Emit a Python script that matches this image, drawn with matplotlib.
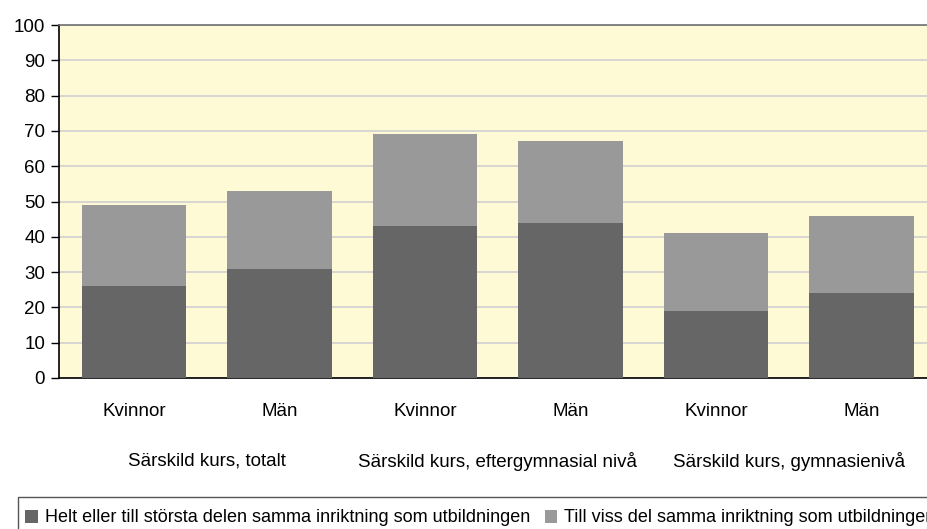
import matplotlib
matplotlib.use("Agg")
import matplotlib.pyplot as plt
from matplotlib.patches import Rectangle, Patch
import numpy as np

plt.rcParams["font.family"] = ["Liberation Sans", "DejaVu Sans"]

# data
sub_labels = ["Kvinnor", "Män", "Kvinnor", "Män", "Kvinnor", "Män"]
group_labels = ["Särskild kurs, totalt",
                "Särskild kurs, eftergymnasial nivå",
                "Särskild kurs, gymnasienivå"]
helt = [26, 31, 43, 44, 19, 24]
till_viss = [23, 22, 26, 23, 22, 22]
series_names = ["Helt eller till största delen samma inriktning som utbildningen",
                "Till viss del samma inriktning som utbildningen"]
yticks = list(range(0, 101, 10))

dark = "#666666"
light = "#999999"
bg = "#FFFAD6"
fs = 13.5

W, H = 927, 529
fig = plt.figure(figsize=(W / 100, H / 100), dpi=100)
ax = fig.add_axes([59 / W, 1 - 378 / H, (932 - 59) / W, (378 - 25) / H])
ax.set_facecolor(bg)

x = np.arange(len(sub_labels))
ax.bar(x, helt, width=0.72, color=dark, zorder=3)
ax.bar(x, till_viss, bottom=helt, width=0.72, color=light, zorder=3)

ax.set_xlim(-0.515, len(sub_labels) - 0.515)
ax.set_ylim(0, 100)
ax.set_yticks(yticks)
ax.yaxis.grid(True, color="#CFCFCF", linewidth=1.2, zorder=0)
ax.tick_params(axis="y", direction="out", length=6, width=1, labelsize=fs, pad=4)
ax.tick_params(axis="x", length=0)
ax.set_xticks(x)
ax.set_xticklabels(sub_labels, fontsize=fs)
ax.tick_params(axis="x", pad=18)

ax.spines["left"].set_color("black")
ax.spines["bottom"].set_color("black")
ax.spines["top"].set_color("#707070")
ax.spines["right"].set_visible(False)
for s in ax.spines.values():
    s.set_linewidth(1.2)

for i, g in enumerate(group_labels):
    ax.text(2 * i + 0.5, -23.6, g, ha="center", va="center", fontsize=fs,
            transform=ax.transData)

# legend box
fig.patches.append(Rectangle((18 / W, -0.01), 1.0, (529 - 497) / H + 0.01,
                             transform=fig.transFigure, facecolor="white",
                             edgecolor="#555555", linewidth=1.0))
handles = [Patch(facecolor=dark, edgecolor="none"),
           Patch(facecolor=light, edgecolor="none")]
fig.legend(handles, series_names, loc="center left", ncol=2,
           bbox_to_anchor=(25 / W, 1 - 518 / H), frameon=False, fontsize=13,
           handlelength=0.7, handleheight=0.7, handletextpad=0.4,
           columnspacing=0.8, borderaxespad=0, borderpad=0)

fig.savefig("out.png", dpi=100, facecolor="white")
